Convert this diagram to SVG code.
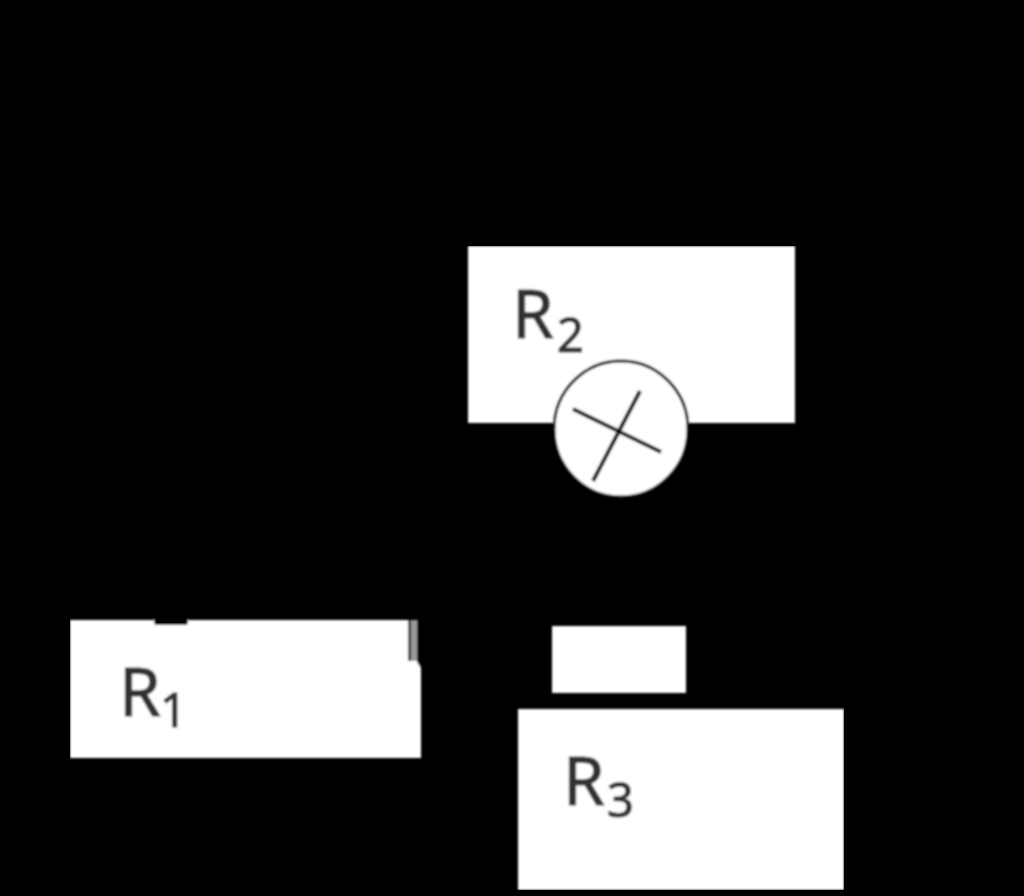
<svg xmlns="http://www.w3.org/2000/svg" width="1024" height="896" viewBox="0 0 1024 896">
<defs><filter id="soft" x="0" y="0" width="100%" height="100%"><feGaussianBlur stdDeviation="0.9"/></filter></defs>
<style>
.box{fill:#fff}
.lbl{font-family:"Noto Sans","Liberation Sans",sans-serif;font-size:67px;fill:#333;stroke:#333;stroke-width:1.2}
.sub{font-size:47px}
.ln{stroke:#111;stroke-width:4;fill:none}
</style>
<rect id="background" width="1024" height="896" fill="#000"/>
<g filter="url(#soft)">
<g id="R2"><rect class="box" x="468" y="246" width="327" height="177"/>
<text class="lbl" x="512" y="338">R</text><text class="lbl sub" x="557" y="352">2</text></g>
<g id="R1"><rect class="box" x="70" y="620" width="351" height="138"/>
<rect x="154" y="616" width="34" height="9" rx="3" fill="#000"/>
<rect x="408" y="620" width="3" height="41" fill="#333"/>
<rect x="411" y="620" width="6" height="41" fill="#999"/>
<path d="M417 620H421V668L417 662Z" fill="#000"/>
<text class="lbl" x="119" y="716">R</text><text class="lbl sub" x="160" y="727">1</text></g>
<g id="R3"><rect class="box" x="518" y="709" width="326" height="181"/>
<text class="lbl" x="563" y="805">R</text><text class="lbl sub" x="607" y="817">3</text></g>
<g id="box4"><rect class="box" x="552" y="626" width="134" height="67"/></g>
<g id="lamp"><ellipse cx="621" cy="429" rx="67" ry="68" fill="#fff" stroke="#111" stroke-width="3"/>
<path class="ln" d="M573 409L661 452M640 391L593 481"/></g>
</g>
</svg>
